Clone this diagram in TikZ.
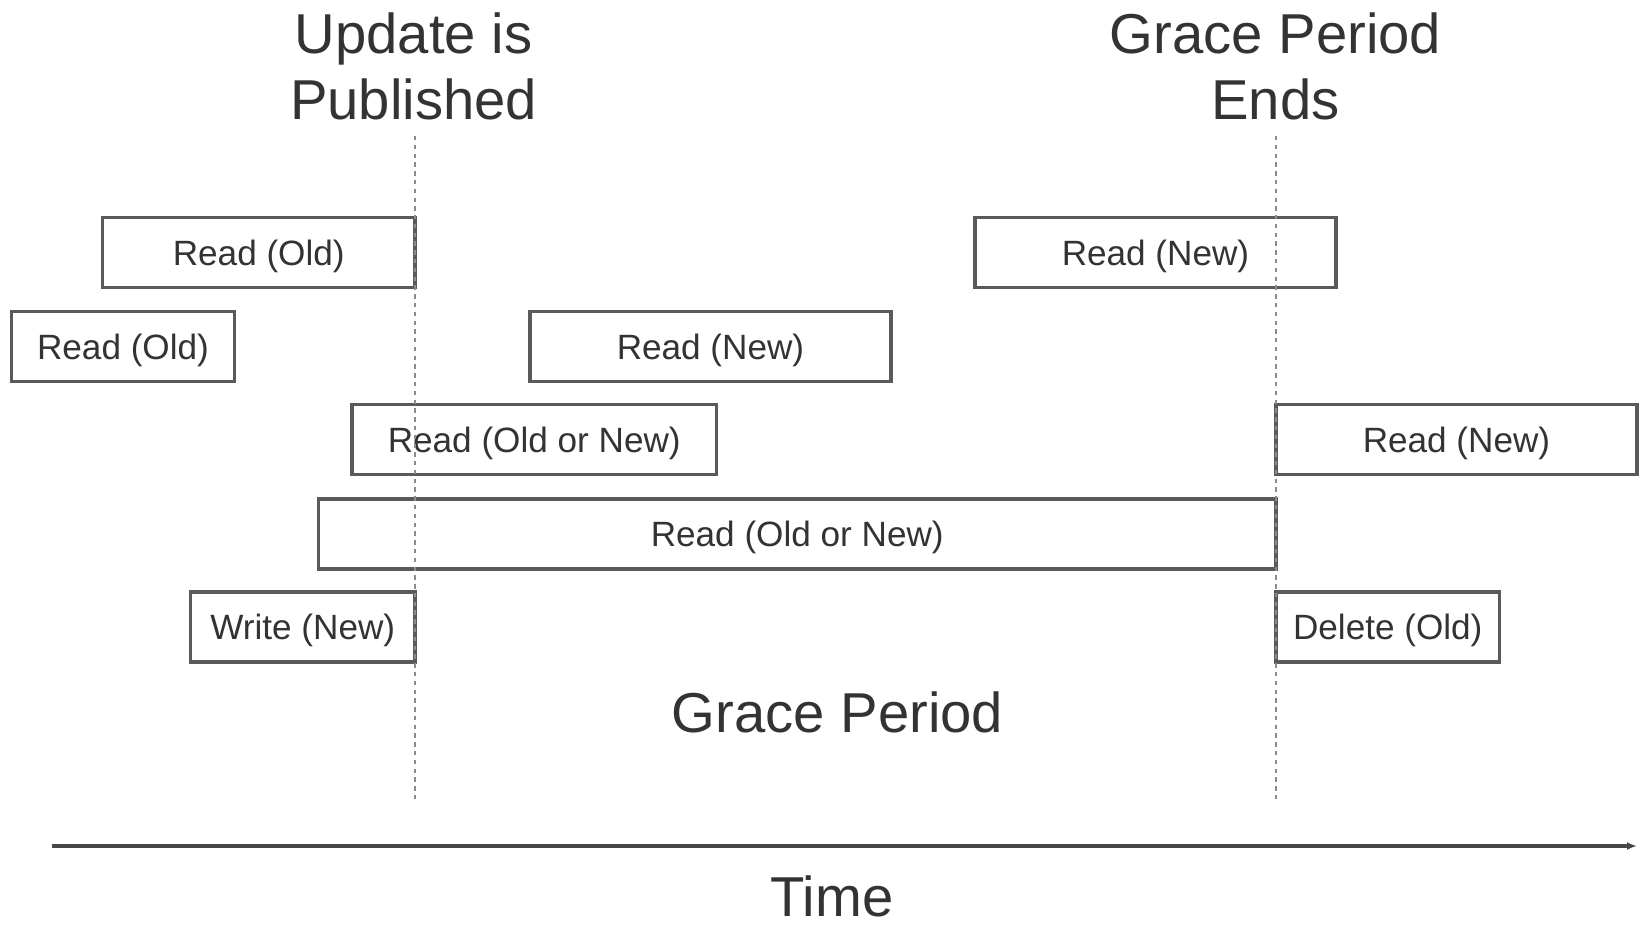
\documentclass[tikz,border=0pt]{standalone}
\usepackage{fontspec}
\setmainfont{Liberation Sans}
\usetikzlibrary{arrows.meta,positioning}
\definecolor{RcuInk}{HTML}{333333}
\definecolor{RcuEdge}{HTML}{5A5A5A}
\definecolor{RcuGuide}{HTML}{8C8C8C}
\tikzset{
  rcuread/.style={
    draw=RcuEdge,
    line width=2.2pt,
    minimum height=1.4cm,
    inner sep=0pt,
    text depth=0pt,
    text=RcuInk,
    font=\fontsize{20}{24}\selectfont
  },
  rcutitle/.style={
    align=center,
    text=RcuInk,
    font=\fontsize{32}{38}\selectfont
  },
  rcuguide/.style={draw=RcuGuide,line width=1.3pt,dash pattern=on 2.5pt off 2.5pt},
  rcuarrow/.style={-{Latex[length=2mm,width=1.6mm]},line width=2pt,draw=RcuInk!90}
}

\begin{document}
\begin{tikzpicture}
    \useasboundingbox (0,0) rectangle (32.84,-18.56);
    \node[rcutitle] (published) at (8.27,-1.33) {Update is\\Published};
    \node[rcutitle] (ends) at (25.51,-1.33) {Grace Period\\Ends};
    \node[rcuread,minimum width=6.25cm] (oldA) at (5.175,-5.05) {Read (Old)};
    \node[rcuread,minimum width=4.46cm] (oldB) at (2.46,-6.93) {Read (Old)};
    \node[rcuread,minimum width=7.22cm] (newA) at (14.21,-6.93) {Read (New)};
    \node[rcuread,minimum width=7.22cm] (newB) at (23.11,-5.05) {Read (New)};
    \node[rcuread,minimum width=7.29cm] (eitherA) at (10.685,-8.79) {Read (Old or New)};
    \node[rcuread,minimum width=7.22cm] (newC) at (29.13,-8.79) {Read (New)};
    \node[rcuread,minimum width=19.15cm] (eitherB) at (15.945,-10.68) {Read (Old or New)};
    \node[rcuread,minimum width=4.49cm] (write) at (6.055,-12.54) {Write (New)};
    \node[rcuread,minimum width=4.47cm] (delete) at (27.755,-12.54) {Delete (Old)};
    \node[rcutitle] (grace) at (16.75,-14.24) {Grace Period};
    \node[rcutitle] (time) at (16.64,-17.93) {Time};
    \coordinate (pubtop) at (8.3,-2.72);
    \coordinate (pubbot) at (8.3,-16.02);
    \coordinate (endtop) at (25.52,-2.72);
    \coordinate (endbot) at (25.52,-16.02);
    \coordinate (tstart) at (1.04,-16.92);
    \coordinate (tend) at (32.74,-16.92);
    \draw[rcuguide] (pubtop) -- (pubbot);
    \draw[rcuguide] (endtop) -- (endbot);
    \draw[rcuarrow] (tstart) -- (tend);
  \end{tikzpicture}
\end{document}
